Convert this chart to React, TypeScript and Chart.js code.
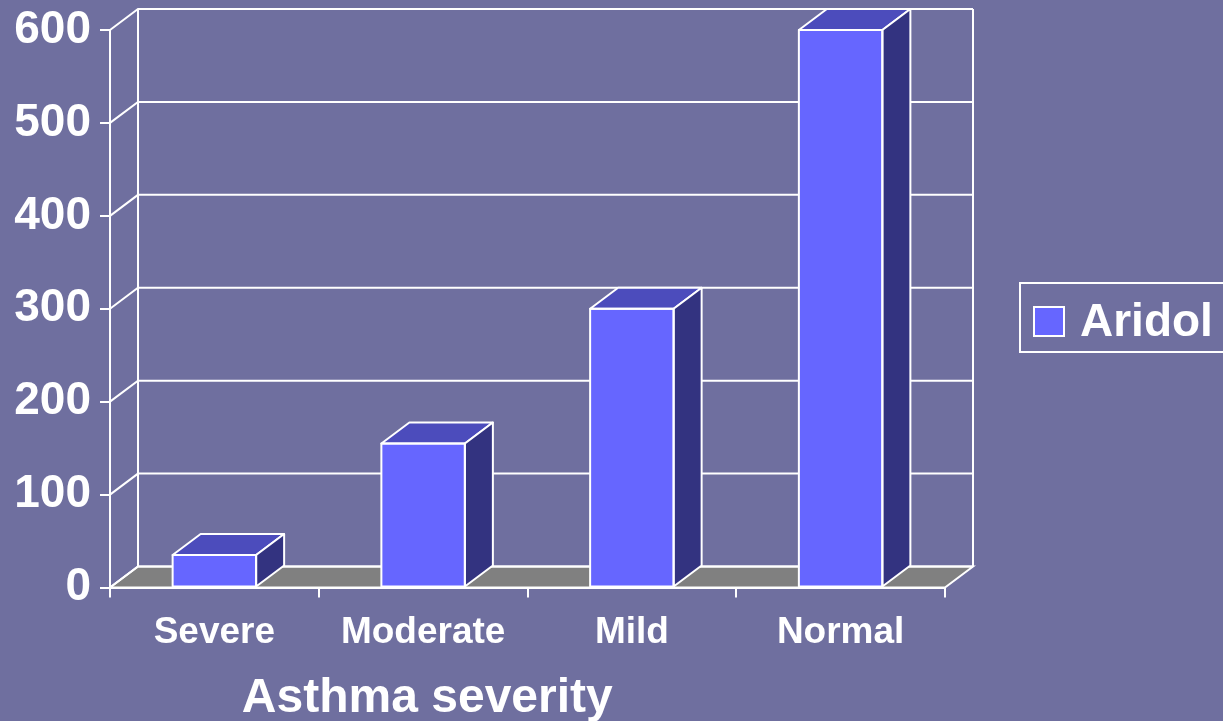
import React, { useEffect, useRef } from "react";
import { Chart, registerables } from "chart.js";

Chart.register(...registerables);

const categories = ["Severe", "Moderate", "Mild", "Normal"];
const seriesName = "Aridol";
const aridolValues = [35, 155, 300, 600];
const yTicks = [0, 100, 200, 300, 400, 500, 600];
const axisTitle = "Asthma severity";

const BG = "#6f6f9f";
const FRONT = "#6666ff";
const TOP = "#4c4cbc";
const SIDE = "#333380";
const FLOOR = "#808080";
const FONT = '"Liberation Sans", Arial, sans-serif';
const DX = 28;
const DY = -21;

const threeD = {
  id: "threeD",
  beforeDraw(chart: any) {
    const ctx = chart.ctx;
    ctx.save();
    ctx.fillStyle = BG;
    ctx.fillRect(0, 0, chart.width, chart.height);
    ctx.restore();
  },
  beforeDatasetsDraw(chart: any) {
    const ctx = chart.ctx;
    const ys = chart.scales.y;
    const { left, right } = chart.chartArea;
    const y0 = ys.getPixelForValue(yTicks[0]);
    const yTop = ys.getPixelForValue(yTicks[yTicks.length - 1]);
    ctx.save();
    ctx.strokeStyle = "#ffffff";
    ctx.lineWidth = 2;
    // floor
    ctx.beginPath();
    ctx.moveTo(left, y0);
    ctx.lineTo(right, y0);
    ctx.lineTo(right + DX, y0 + DY);
    ctx.lineTo(left + DX, y0 + DY);
    ctx.closePath();
    ctx.fillStyle = FLOOR;
    ctx.fill();
    ctx.stroke();
    // back wall verticals
    ctx.beginPath();
    ctx.moveTo(left + DX, y0 + DY);
    ctx.lineTo(left + DX, yTop + DY);
    ctx.moveTo(right + DX, y0 + DY);
    ctx.lineTo(right + DX, yTop + DY);
    ctx.stroke();
    // gridlines
    yTicks.forEach((v) => {
      const y = ys.getPixelForValue(v);
      ctx.beginPath();
      ctx.moveTo(left, y);
      ctx.lineTo(left + DX, y + DY);
      ctx.lineTo(right + DX, y + DY);
      ctx.stroke();
    });
    ctx.restore();
  },
  afterDatasetsDraw(chart: any) {
    const ctx = chart.ctx;
    const meta = chart.getDatasetMeta(0);
    ctx.save();
    ctx.strokeStyle = "#ffffff";
    ctx.lineWidth = 2;
    ctx.lineJoin = "round";
    meta.data.forEach((bar: any) => {
      const p = bar.getProps(["x", "y", "base", "width"], true);
      const l = p.x - p.width / 2;
      const r = p.x + p.width / 2;
      const t = p.y;
      const b = p.base;
      // top
      ctx.beginPath();
      ctx.moveTo(l, t);
      ctx.lineTo(l + DX, t + DY);
      ctx.lineTo(r + DX, t + DY);
      ctx.lineTo(r, t);
      ctx.closePath();
      ctx.fillStyle = TOP;
      ctx.fill();
      ctx.stroke();
      // side
      ctx.beginPath();
      ctx.moveTo(r, t);
      ctx.lineTo(r + DX, t + DY);
      ctx.lineTo(r + DX, b + DY);
      ctx.lineTo(r, b);
      ctx.closePath();
      ctx.fillStyle = SIDE;
      ctx.fill();
      ctx.stroke();
      // front outline
      ctx.strokeRect(l, t, r - l, b - t);
    });
    ctx.restore();
  },
  afterDraw(chart: any) {
    const ctx = chart.ctx;
    const { left, right } = chart.chartArea;
    ctx.save();
    ctx.fillStyle = "#ffffff";
    // axis title
    ctx.font = `bold 48px ${FONT}`;
    ctx.textAlign = "center";
    ctx.textBaseline = "alphabetic";
    ctx.fillText(axisTitle, left + (right - left) * 0.38, 712);
    // legend
    ctx.strokeStyle = "#ffffff";
    ctx.lineWidth = 2;
    ctx.strokeRect(1020, 283, 220, 69);
    ctx.fillStyle = FRONT;
    ctx.fillRect(1034, 307, 30, 29);
    ctx.strokeRect(1034, 307, 30, 29);
    ctx.fillStyle = "#ffffff";
    ctx.font = `bold 46px ${FONT}`;
    ctx.textAlign = "left";
    ctx.fillText(seriesName, 1080, 336);
    ctx.restore();
  },
};

export default function App() {
  const ref = useRef<HTMLCanvasElement>(null);
  useEffect(() => {
    const chart = new Chart(ref.current as HTMLCanvasElement, {
      type: "bar",
      data: {
        labels: categories,
        datasets: [
          {
            label: seriesName,
            data: aridolValues,
            backgroundColor: FRONT,
            borderColor: "#ffffff",
            borderWidth: 0,
            categoryPercentage: 1,
            barPercentage: 0.4,
          },
        ],
      },
      options: {
        responsive: false,
        animation: false,
        devicePixelRatio: 1,
        layout: { padding: { top: 30, right: 278, bottom: 0, left: 0 } },
        plugins: { legend: { display: false }, tooltip: { enabled: false } },
        scales: {
          x: {
            afterFit: (s: any) => {
              s.height = 133.5;
              s.paddingLeft = 0;
              s.paddingRight = 0;
            },
            grid: {
              offset: true,
              drawOnChartArea: false,
              drawTicks: true,
              tickLength: 10,
              color: "#ffffff",
              lineWidth: 2,
            },
            border: { display: true, color: "#ffffff", width: 2 },
            ticks: {
              color: "#ffffff",
              padding: 13,
              font: { family: FONT, size: 37, weight: "bold" },
              maxRotation: 0,
            },
          },
          y: {
            min: 0,
            max: 600,
            afterFit: (s: any) => {
              s.width = 110;
              s.paddingTop = 0;
              s.paddingBottom = 0;
            },
            grid: {
              drawOnChartArea: false,
              drawTicks: true,
              tickLength: 10,
              color: "#ffffff",
              lineWidth: 2,
            },
            border: { display: true, color: "#ffffff", width: 2 },
            ticks: {
              stepSize: 100,
              color: "#ffffff",
              padding: 9,
              font: { family: FONT, size: 46, weight: "bold" },
            },
          },
        },
      },
      plugins: [threeD],
    } as any);
    return () => chart.destroy();
  }, []);
  return (
    <div style={{ position: "fixed", left: 0, top: 0, width: 1223, height: 721, background: BG, overflow: "hidden" }}>
      <canvas ref={ref} width={1223} height={721} style={{ display: "block" }} />
    </div>
  );
}
